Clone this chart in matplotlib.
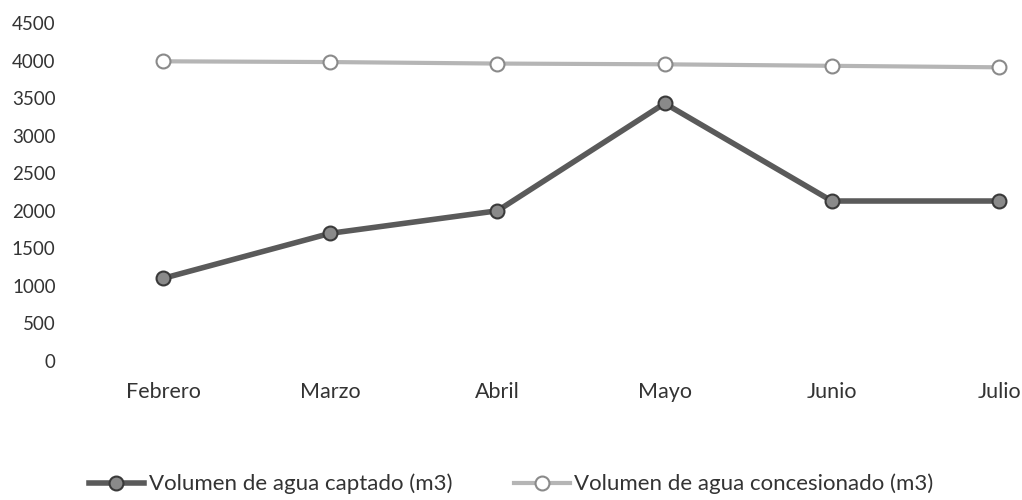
import matplotlib.pyplot as plt

# data
meses = ['Febrero', 'Marzo', 'Abril', 'Mayo', 'Junio', 'Julio']
captado = [1100, 1700, 2000, 3430, 2130, 2130]
concesionado = [3990, 3980, 3960, 3950, 3930, 3910]

plt.rcParams['font.family'] = ['Lato', 'DejaVu Sans']
plt.rcParams['font.size'] = 13.5

fig = plt.figure(figsize=(10.22, 5), dpi=100)
ax = fig.add_axes([82 / 1022, 139 / 500, 940 / 1022, 338 / 500])

x = range(len(meses))
ax.plot(x, captado, color='#5a5a5a', lw=4, marker='o', ms=10,
        mfc='#8a8a8a', mec='#3a3a3a', mew=1.5,
        label='Volumen de agua captado (m3)')
ax.plot(x, concesionado, color='#b5b5b5', lw=3, marker='o', ms=10,
        mfc='white', mec='#8a8a8a', mew=1.5,
        label='Volumen de agua concesionado (m3)')

ax.set_xlim(-0.485, 5.137)
ax.set_ylim(0, 4500)
ax.set_yticks(range(0, 4501, 500))
ax.set_xticks(list(x))
ax.set_xticklabels(meses, fontsize=15.5)
ax.tick_params(axis='y', length=0, pad=19, colors='#333333')
ax.tick_params(axis='x', length=0, pad=15, colors='#333333')
for s in ax.spines.values():
    s.set_visible(False)

fig.legend(loc='center', bbox_to_anchor=(0.5, 0.032), ncol=2, frameon=False,
           fontsize=16, handlelength=2.5, columnspacing=2.8, handletextpad=0.2,
           labelcolor='#333333')

fig.savefig('out.png', dpi=100)
